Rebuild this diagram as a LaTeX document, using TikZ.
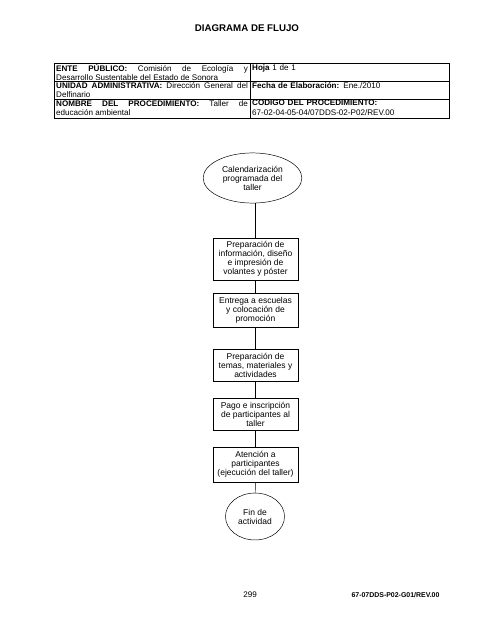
\documentclass[tikz,border=0pt]{standalone}
\usepackage{fontspec}
\setmainfont{Liberation Sans}
\usetikzlibrary{shapes.geometric}
\hyphenpenalty=10000

\begin{document}
\begin{tikzpicture}[x=1.236pt, y=-1.236pt,
    paso/.style={draw, line width=0.6pt, align=center, minimum width=105pt, inner sep=1pt,
        font=\fontsize{10.5}{11.2}\selectfont},
    ovalo/.style={draw, line width=0.6pt, ellipse, align=center, inner sep=0pt,
        font=\fontsize{10.5}{11.2}\selectfont},
    celda/.style={anchor=north west, inner sep=0pt, font=\fontsize{10}{11.5}\selectfont}]

    \useasboundingbox (0,0) rectangle (495,640);

    % --- Title ---
    \node[font=\bfseries\fontsize{12}{14}\selectfont] (titulo) at (247,28) {DIAGRAMA DE FLUJO};

    % --- Header table ---
    \draw[line width=0.6pt] (54,63) rectangle (449,118);
    \foreach \y in {81,99} {
        \draw[line width=0.6pt] (54,\y) -- (449,\y);
    }
    \draw[line width=0.6pt] (250,63) -- (250,118);

    % Left column (justified)
    \node[celda, text width=237pt, align=justify] (ente) at (56,64)
        {\textbf{ENTE PÚBLICO:} Comisión de Ecología y\linebreak Desarrollo Sustentable del Estado de Sonora};
    \node[celda, text width=237pt, align=justify] (unidad) at (56,82)
        {\textbf{UNIDAD ADMINISTRATIVA:} Dirección General del\linebreak Delfinario};
    \node[celda, text width=237pt, align=justify] (nombre) at (56,100)
        {\textbf{NOMBRE DEL PROCEDIMIENTO:} Taller de\linebreak educación ambiental};

    % Right column
    \node[celda, text width=240pt, align=left] (hoja) at (252,64) {\textbf{Hoja} 1 de 1};
    \node[celda, text width=240pt, align=left] (fecha) at (252,82) {\textbf{Fecha de Elaboración:} Ene./2010};
    \node[celda, text width=240pt, align=left] (codigo) at (252,100)
        {\textbf{CODIGO DEL PROCEDIMIENTO:}\\67-02-04-05-04/07DDS-02-P02/REV.00};

    % --- Flow chart ---
    \node[ovalo, minimum width=122pt, minimum height=62pt] (calendario) at (252.5,178)
        {Calendarización\\programada del\\taller};
    \node[paso, minimum height=52pt] (preparacion) at (255.5,259)
        {Preparación de\\información, diseño\\e impresión de\\volantes y póster};
    \node[paso, minimum height=42pt] (entrega) at (255.5,310)
        {Entrega a escuelas\\y colocación de\\promoción};
    \node[paso, minimum height=39.5pt] (temas) at (255.5,365)
        {Preparación de\\temas, materiales y\\actividades};
    \node[paso, minimum height=39.5pt] (pago) at (255.5,414)
        {Pago e inscripción\\de participantes al\\taller};
    \node[paso, minimum height=43pt] (atencion) at (255.5,464.5)
        {Atención a\\participantes\\(ejecución del taller)};
    \node[ovalo, minimum width=73pt, minimum height=58pt] (fin) at (255,516.5)
        {Fin de\\actividad};

    % Connectors
    \draw[line width=0.6pt] (preparacion.north) -- (preparacion.north |- calendario.south);
    \foreach \a/\b in {preparacion/entrega, entrega/temas,
                       temas/pago, pago/atencion, atencion/fin} {
        \draw[line width=0.6pt] (\a) -- (\b);
    }

    % --- Footer ---
    \node[font=\fontsize{10}{12}\selectfont] (pagina) at (250,595) {299};
    \node[font=\bfseries\fontsize{8.6}{10}\selectfont] (clave) at (395.5,595) {67-07DDS-P02-G01/REV.00};

\end{tikzpicture}
\end{document}
